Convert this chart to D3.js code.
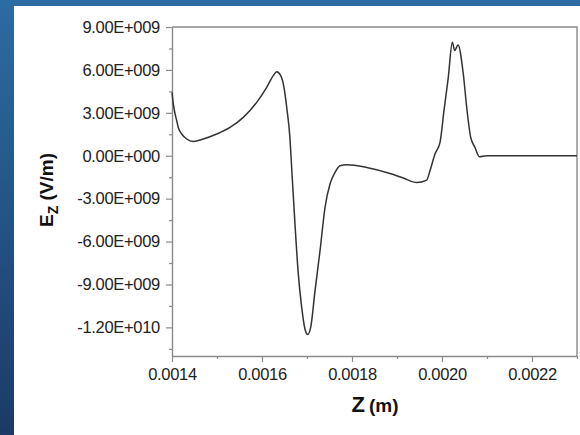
<!DOCTYPE html>
<html>
<head>
<meta charset="utf-8">
<script src="https://cdn.jsdelivr.net/npm/d3@7"></script>
<style>
  html, body { margin: 0; padding: 0; background: #fff; }
  svg { display: block; }
</style>
</head>
<body>
<div id="chart"></div>
<script>
// z position (m)
var zValues = [
  0.0014000, 0.0014029, 0.0014104, 0.0014140, 0.0014216, 0.0014327, 0.0014473,
  0.0014696, 0.0014993, 0.0015289, 0.0015584, 0.0015882, 0.0016104, 0.0016251,
  0.0016327, 0.0016416, 0.0016489, 0.0016549, 0.0016622, 0.0016662, 0.0016733,
  0.0016807, 0.0016882, 0.0016956, 0.0017016, 0.0017082, 0.0017178, 0.0017289,
  0.0017400, 0.0017511, 0.0017622, 0.0017733, 0.0017882, 0.0018327, 0.0018844,
  0.0019140, 0.0019438, 0.0019660, 0.0019733, 0.0019844, 0.0019956, 0.0020044,
  0.0020140, 0.0020229, 0.0020282, 0.0020356, 0.0020473, 0.0020549, 0.0020638,
  0.0020733, 0.0020829, 0.0020993, 0.0023000
];
// Ez (V/m), in units of 1e9
var ezValues = [
  4.43, 3.62, 2.45, 1.98, 1.52, 1.17, 1.00,
  1.17, 1.52, 1.98, 2.68, 3.73, 4.78, 5.60,
  5.88, 5.60, 4.78, 3.38, 1.20, -1.00, -4.78,
  -8.28, -10.6, -12.13, -12.5, -12.0, -9.45, -6.65,
  -3.62, -1.98, -1.17, -0.70, -0.63, -0.82, -1.24,
  -1.56, -1.87, -1.70, -1.05, 0.12, 0.93, 3.15,
  5.48, 7.93, 7.35, 7.75, 5.72, 3.38, 1.28,
  0.58, -0.07, 0.00, 0.00
];

var xTicks = [0.0014, 0.0016, 0.0018, 0.0020, 0.0022];
var xMinor = [0.0015, 0.0017, 0.0019, 0.0021, 0.0023];
var yTicks = [9e9, 6e9, 3e9, 0, -3e9, -6e9, -9e9, -1.2e10];
var yMinor = [7.5e9, 4.5e9, 1.5e9, -1.5e9, -4.5e9, -7.5e9, -1.05e10, -1.35e10];

var W = 580, H = 435;
var margin = { left: 172, top: 27, right: 3, bottom: 79 };

var svg = d3.select('#chart').append('svg')
    .attr('width', W)
    .attr('height', H);

// blue slide background
var grad = svg.append('defs').append('linearGradient')
    .attr('id', 'bg')
    .attr('x1', 0).attr('y1', 0).attr('x2', 0).attr('y2', 1);
grad.append('stop').attr('offset', '0%').attr('stop-color', '#2b6ca3');
grad.append('stop').attr('offset', '100%').attr('stop-color', '#1b3b66');
svg.append('rect').attr('width', W).attr('height', H).attr('fill', 'url(#bg)');
svg.append('rect').attr('x', 14).attr('y', 6)
    .attr('width', W - 14).attr('height', H - 6).attr('fill', '#fff');

var x = d3.scaleLinear().domain([0.0014, 0.0023])
    .range([margin.left, W - margin.right]);
var y = d3.scaleLinear().domain([-1.4e10, 9e9])
    .range([H - margin.bottom, margin.top]);

function sci(v) {
  if (v === 0) return '0.00E+000';
  var e = Math.floor(Math.log10(Math.abs(v)));
  var m = v / Math.pow(10, e);
  var s = e < 0 ? '-' : '+';
  return m.toFixed(2) + 'E' + s + String(Math.abs(e)).padStart(3, '0');
}

var axisColor = '#8a8a8a';
var font = '"Liberation Sans", Arial, sans-serif';

// frame: top and right edges
svg.append('path')
    .attr('d', 'M' + x(0.0014) + ',' + y(9e9) + 'H' + x(0.0023) + 'V' + y(-1.4e10))
    .attr('fill', 'none')
    .attr('stroke', axisColor)
    .attr('stroke-width', 1.4);

// minor ticks
svg.append('g')
    .attr('transform', 'translate(' + margin.left + ',0)')
    .call(d3.axisLeft(y).tickValues(yMinor).tickSize(3).tickFormat(''))
    .call(function(g) { g.select('.domain').remove(); })
    .selectAll('line').attr('stroke', axisColor).attr('stroke-width', 1.2);
svg.append('g')
    .attr('transform', 'translate(0,' + (H - margin.bottom) + ')')
    .call(d3.axisBottom(x).tickValues(xMinor).tickSize(3).tickFormat(''))
    .call(function(g) { g.select('.domain').remove(); })
    .selectAll('line').attr('stroke', axisColor).attr('stroke-width', 1.2);

// major axes
var gy = svg.append('g')
    .attr('transform', 'translate(' + margin.left + ',0)')
    .call(d3.axisLeft(y).tickValues(yTicks).tickSize(6).tickSizeOuter(0)
      .tickPadding(6).tickFormat(sci));
var gx = svg.append('g')
    .attr('transform', 'translate(0,' + (H - margin.bottom) + ')')
    .call(d3.axisBottom(x).tickValues(xTicks).tickSize(6).tickSizeOuter(0)
      .tickPadding(6).tickFormat(d3.format('.4f')));

[gy, gx].forEach(function(g) {
  g.select('.domain').attr('stroke', axisColor).attr('stroke-width', 1.4);
  g.selectAll('line').attr('stroke', axisColor).attr('stroke-width', 1.2);
  g.selectAll('text')
      .attr('fill', '#222')
      .style('font-family', font)
      .style('font-size', '16.5px')
      .style('letter-spacing', '-0.3px');
});

// curve
var pts = zValues.map(function(z, i) { return [z, ezValues[i] * 1e9]; });
var line = d3.line()
    .x(function(d) { return x(d[0]); })
    .y(function(d) { return y(d[1]); })
    .curve(d3.curveMonotoneX);
svg.append('path')
    .datum(pts)
    .attr('d', line)
    .attr('fill', 'none')
    .attr('stroke', '#333')
    .attr('stroke-width', 1.5)
    .attr('stroke-linejoin', 'round');

// axis titles
var xt = svg.append('text')
    .attr('x', 375).attr('y', 412)
    .attr('text-anchor', 'middle')
    .style('font-family', font)
    .style('font-weight', 'bold')
    .style('font-size', '19px')
    .attr('fill', '#111');
xt.append('tspan').style('font-size', '22px').text('Z');
xt.append('tspan').attr('dx', 4).text('(m)');

var yt = svg.append('text')
    .attr('transform', 'translate(53,190) rotate(-90)')
    .attr('text-anchor', 'middle')
    .style('font-family', font)
    .style('font-weight', 'bold')
    .style('font-size', '19px')
    .attr('fill', '#111');
yt.append('tspan').text('E');
yt.append('tspan').attr('dy', 5).style('font-size', '14px').text('Z');
yt.append('tspan').attr('dy', -5).text(' (V/m)');
</script>
</body>
</html>
